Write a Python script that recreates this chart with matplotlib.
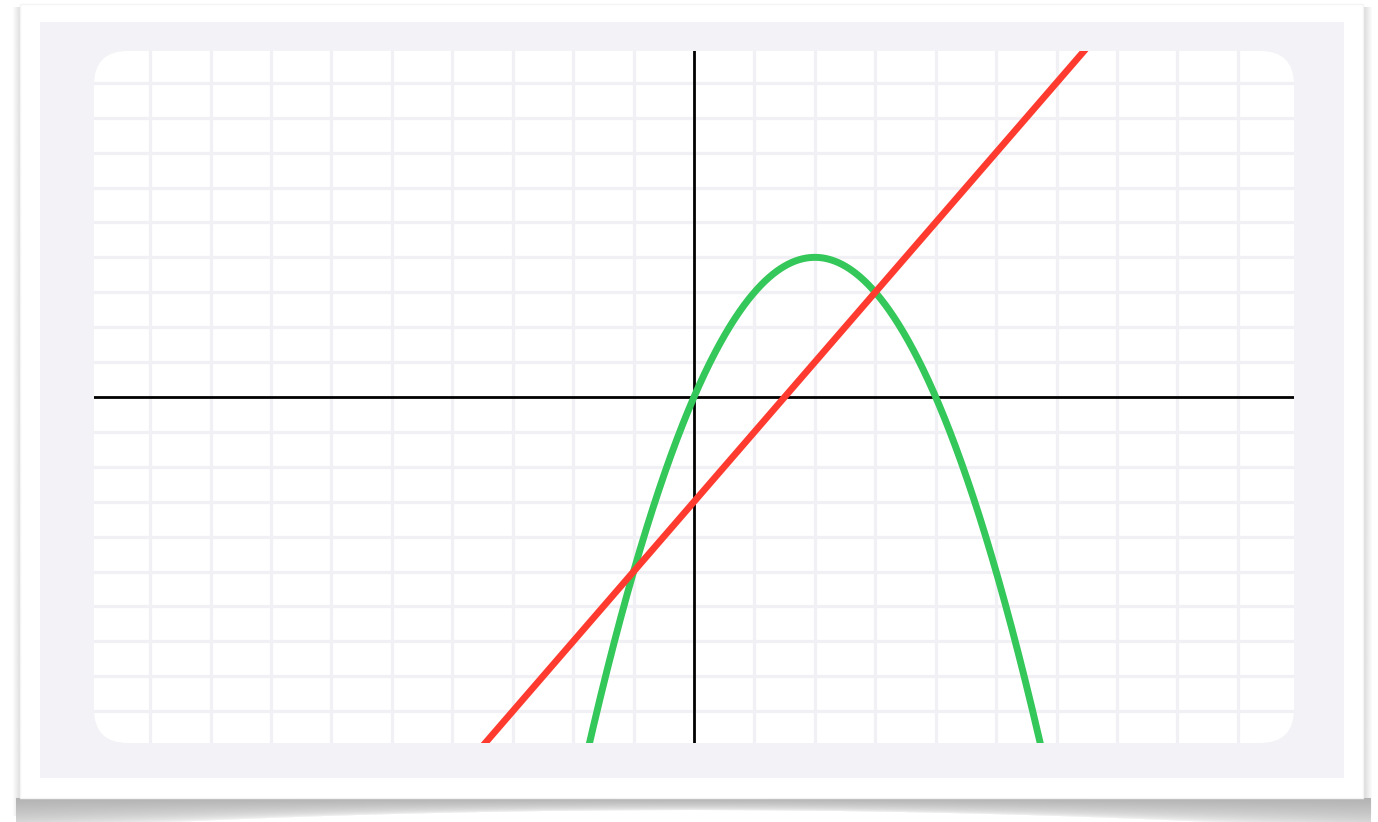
import numpy as np
import matplotlib
matplotlib.use("Agg")
import matplotlib.pyplot as plt
from matplotlib.patches import Rectangle, FancyBboxPatch

# ---- data ----
x_range = [-9.93, 9.93]
y_range = [-9.91, 9.91]
grid_ticks_x = list(range(-9, 10))
grid_ticks_y = list(range(-9, 10))
parabola_coeffs = [-1, 4, 0]   # y = -x^2 + 4x   (vertex (2,4), roots 0 and 4)
line_coeffs = [2, -3]          # y = 2x - 3      (crosses parabola at x=-1 and x=3)

W, H = 1378, 822
fig = plt.figure(figsize=(W / 100, H / 100), dpi=100)
fig.patch.set_facecolor("white")

# ---- background / frame in pixel coordinates ----
bg = fig.add_axes([0, 0, 1, 1])
bg.set_xlim(0, W)
bg.set_ylim(H, 0)
bg.axis("off")

# shadow image
yy, xx = np.mgrid[0:H, 0:W].astype(float)
alpha = np.zeros((H, W))
cx = (20 + 1363) / 2
half = (1363 - 20) / 2
rel = np.clip(np.abs(xx - cx) / half, 0, 1)
thick = 12 + 20 * rel ** 2
d = yy - 798
inside_x = (xx >= 16) & (xx <= 1370)
bottom = np.where((d >= 0) & inside_x, np.clip(1 - d / thick, 0, 1) ** 0.5 * 0.5, 0)
alpha = np.maximum(alpha, bottom)
# left shadow
dl = 20 - xx
left = np.where((dl >= 0) & (yy >= 8) & (yy <= 815), np.clip(1 - dl / 8, 0, 1) * 0.22, 0)
alpha = np.maximum(alpha, left)
# right shadow
dr = xx - 1363
right = np.where((dr >= 0) & (yy >= 8) & (yy <= 815), np.clip(1 - dr / 9, 0, 1) * 0.25, 0)
alpha = np.maximum(alpha, right)
rgba = np.zeros((H, W, 4))
rgba[..., :3] = 0.4
rgba[..., 3] = alpha
bg.imshow(rgba, extent=(0, W, H, 0), interpolation="bilinear", zorder=0)

bg.add_patch(Rectangle((20, 4), 1343, 794, facecolor="white", edgecolor="#f4f4f6",
                       linewidth=1, zorder=1))
bg.add_patch(Rectangle((40, 22), 1304, 756, facecolor="#f2f2f7", edgecolor="none", zorder=2))
r = 34
plot_bg = FancyBboxPatch((94 + r, 51 + r), 1200 - 2 * r, 692 - 2 * r,
                         boxstyle=f"round,pad={r}", facecolor="white",
                         edgecolor="none", zorder=3)
bg.add_patch(plot_bg)

# ---- plot axes ----
ax = fig.add_axes([94 / W, (H - 743) / H, 1200 / W, 692 / H])
ax.set_facecolor("none")
ax.set_xlim(*x_range)
ax.set_ylim(*y_range)
for s in ax.spines.values():
    s.set_visible(False)
ax.set_xticks([])
ax.set_yticks([])

grid_color = "#f0f0f5"
for gx in grid_ticks_x:
    if gx == 0:
        continue
    ln = ax.axvline(gx, color=grid_color, linewidth=2.3, zorder=1)
    ln.set_clip_path(plot_bg)
for gy in grid_ticks_y:
    if gy == 0:
        continue
    ln = ax.axhline(gy, color=grid_color, linewidth=2.3, zorder=1)
    ln.set_clip_path(plot_bg)

ax.axhline(0, color="black", linewidth=2.0, zorder=2)
ax.axvline(0, color="black", linewidth=2.0, zorder=2)

xs = np.linspace(x_range[0], x_range[1], 2000)
ys_par = np.polyval(parabola_coeffs, xs)
ys_line = np.polyval(line_coeffs, xs)
g, = ax.plot(xs, ys_par, color="#34c759", linewidth=5.0, zorder=3, solid_capstyle="butt")
rl, = ax.plot(xs, ys_line, color="#ff3b30", linewidth=4.8, zorder=4, solid_capstyle="butt")
g.set_clip_path(plot_bg)
rl.set_clip_path(plot_bg)

fig.savefig("out.png", dpi=100, facecolor="white")
